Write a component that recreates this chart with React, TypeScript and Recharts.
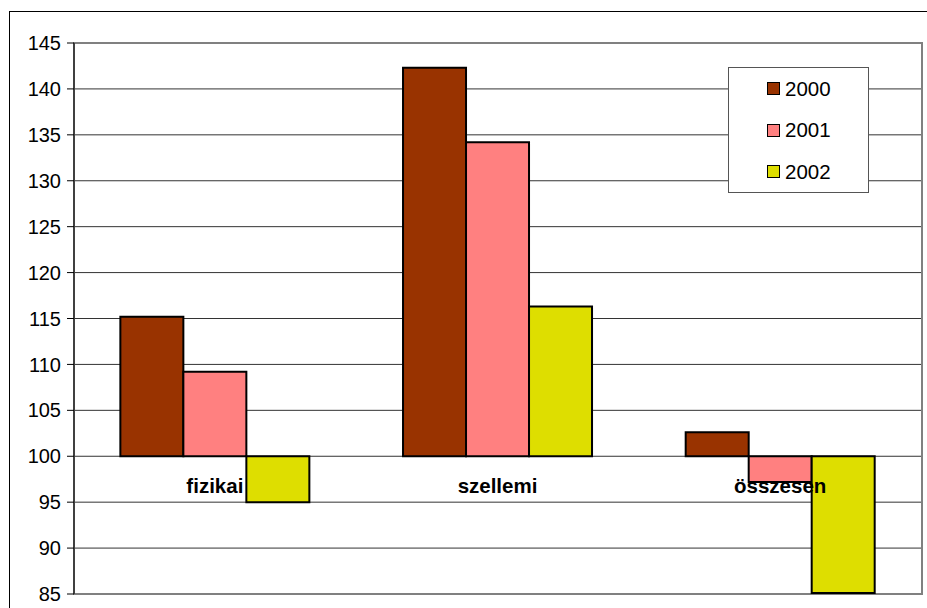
import { BarChart, Bar, XAxis, YAxis, CartesianGrid, Legend, LabelList, ReferenceArea } from 'recharts';

const categories = ['fizikai', 'szellemi', 'összesen'];
const years = ['2000', '2001', '2002'];
const values2000 = [115.2, 142.3, 102.6];
const values2001 = [109.2, 134.2, 97.2];
const values2002 = [95.0, 116.3, 85.1];
const yTicks = [85, 90, 95, 100, 105, 110, 115, 120, 125, 130, 135, 140, 145];
const BASE = 100;

const colors = ['#993300', '#ff8080', '#dede00'];
const font = "Arial, 'Liberation Sans', sans-serif";

// bars start at 100, so each one is a [base, value] range
const data = categories.map((name, i) => ({
  name,
  y2000: [BASE, values2000[i]],
  y2001: [BASE, values2001[i]],
  y2002: [BASE, values2002[i]],
}));

// category names sit under the 100 line, centred on the middle bar of the group
const CategoryLabel = (props: any) => {
  const x = Number(props.x);
  const y = Number(props.y);
  const w = Number(props.width);
  const h = Number(props.height);
  const i = props.index;
  const base = values2002[i] >= BASE ? Math.max(y, y + h) : Math.min(y, y + h);
  return (
    <text
      x={x - w / 2}
      y={base + 37}
      textAnchor="middle"
      fontFamily={font}
      fontWeight="bold"
      fontSize={20.5}
      fill="#000"
    >
      {categories[i]}
    </text>
  );
};

const LegendBox = (props: any) => {
  const items = props.payload || [];
  return (
    <div
      style={{
        width: 141,
        height: 126,
        boxSizing: 'border-box',
        border: '1px solid #555',
        background: '#fff',
        fontFamily: font,
        fontSize: 20.5,
        color: '#000',
      }}
    >
      {items.map((item: any) => (
        <div key={item.value} style={{ height: 41.5, display: 'flex', alignItems: 'center', paddingLeft: 38 }}>
          <span
            style={{
              display: 'inline-block',
              width: 11,
              height: 11,
              border: '1.5px solid #000',
              background: item.color,
              marginRight: 5,
            }}
          />
          <span>{item.value}</span>
        </div>
      ))}
    </div>
  );
};

export default function App() {
  return (
    <div style={{ position: 'fixed', left: 0, top: 0, width: 927, height: 608, overflow: 'hidden', background: '#fff' }}>
      <div
        style={{
          position: 'absolute',
          left: 9,
          top: 11,
          width: 940,
          height: 620,
          border: '1px solid #000',
          background: '#fff',
        }}
      >
        <BarChart
          width={940}
          height={620}
          data={data}
          margin={{ top: 31, right: 28, left: 0, bottom: 38 }}
          barCategoryGap="16.4%"
          barGap={0}
        >
          <CartesianGrid horizontal vertical={false} stroke="#333" />
          <ReferenceArea y1={85} y2={145} fill="none" stroke="#808080" strokeWidth={2} />
          <XAxis dataKey="name" hide />
          <YAxis
            domain={[85, 145]}
            ticks={yTicks}
            interval={0}
            width={64}
            tickSize={7}
            tickMargin={6}
            axisLine={{ stroke: '#000' }}
            tickLine={{ stroke: '#000' }}
            tick={{ fontSize: 20, fill: '#000', fontFamily: font }}
          />
          <Legend
            layout="vertical"
            align="center"
            verticalAlign="middle"
            wrapperStyle={{ left: 718, top: 55, width: 141, height: 126 }}
            content={LegendBox}
          />
          <Bar dataKey="y2000" name={years[0]} fill={colors[0]} stroke="#000" strokeWidth={2} isAnimationActive={false} />
          <Bar dataKey="y2001" name={years[1]} fill={colors[1]} stroke="#000" strokeWidth={2} isAnimationActive={false} />
          <Bar dataKey="y2002" name={years[2]} fill={colors[2]} stroke="#000" strokeWidth={2} isAnimationActive={false}>
            <LabelList dataKey="name" content={CategoryLabel} />
          </Bar>
        </BarChart>
      </div>
    </div>
  );
}
